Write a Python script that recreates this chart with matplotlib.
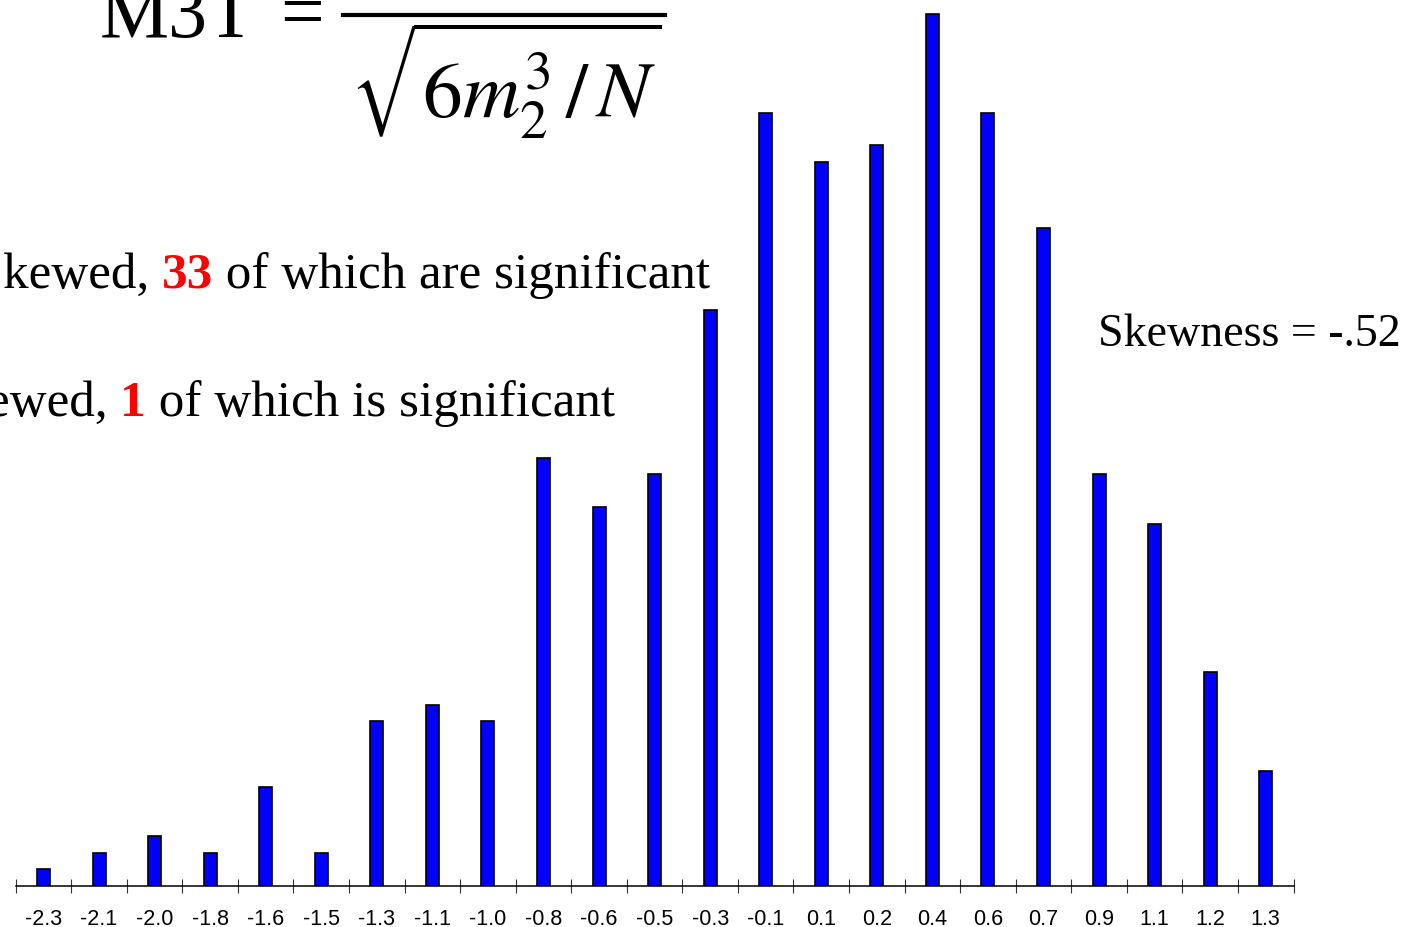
import matplotlib
matplotlib.use("Agg")
import matplotlib.pyplot as plt
from matplotlib.lines import Line2D

# Histogram of skewness values: bin labels and counts
bin_labels = ["-2.3", "-2.1", "-2.0", "-1.8", "-1.6", "-1.5", "-1.3", "-1.1",
              "-1.0", "-0.8", "-0.6", "-0.5", "-0.3", "-0.1", "0.1", "0.2",
              "0.4", "0.6", "0.7", "0.9", "1.1", "1.2", "1.3"]
counts = [1, 2, 3, 2, 6, 2, 10, 11, 10, 26, 23, 25, 35, 47, 44, 45, 53, 47,
          40, 25, 22, 13, 7]

line1 = [("kewed,", "black", "normal"), (" ", "black", "normal"),
         ("33", "#FF0000", "bold"), (" of which are significant", "black", "normal")]
line2 = [("ewed,", "black", "normal"), (" ", "black", "normal"),
         ("1", "#FF0000", "bold"), (" of which is significant", "black", "normal")]
skew_text = "Skewness = -.52"

W, H = 1420, 928
plt.rcParams["mathtext.fontset"] = "stix"
fig = plt.figure(figsize=(W / 100, H / 100), dpi=100)


def px(x, y):
    """Pixel position (from top-left) to figure fraction."""
    return x / W, 1 - y / H


ax = fig.add_axes([15.7 / W, (H - 886.7) / H, (1293.5 - 15.7) / W, 886.7 / H])
x = list(range(len(counts)))
ax.bar(x, counts, width=0.235, color="#0000FF", edgecolor="black", linewidth=1.2)
ax.set_xlim(-0.5, len(counts) - 0.5)
ax.set_ylim(0, 53.9)
for side in ("top", "right", "left"):
    ax.spines[side].set_visible(False)
ax.spines["bottom"].set_linewidth(1.1)
ax.set_yticks([])
ax.set_xticks(x)
ax.set_xticklabels(bin_labels, family="Liberation Sans", fontsize=15.5)
ax.tick_params(axis="x", which="major", length=0, pad=16)
ax.set_xticks([i - 0.5 for i in range(len(counts) + 1)], minor=True)
ax.tick_params(axis="x", which="minor", direction="inout", length=10, width=0.8,
               color="#333333")
ax.patch.set_alpha(0)

renderer = fig.canvas.get_renderer()

# Formula: M3T = m3 / sqrt(6 m2^3 / N)
fig.text(*px(100, 37), "M3T", family="Liberation Serif", fontsize=56,
         ha="left", va="baseline")
fig.text(*px(280, 37), "=", family="Liberation Serif", fontsize=56,
         ha="left", va="baseline")
fig.add_artist(Line2D([343 / W, 665 / W], [1 - 16 / H, 1 - 16 / H],
                      transform=fig.transFigure, color="black", lw=3.0))
fig.text(*px(468, -14), r"$m_3$", fontsize=56, ha="left", va="baseline")
fig.text(*px(350, 118), r"$\sqrt{6m_2^3\,/\,N}$", fontsize=57, ha="left",
         va="baseline")


def rich_line(x0, baseline, pieces, size):
    xx = x0
    for s, col, wt in pieces:
        t = fig.text(*px(xx, baseline), s, color=col, fontweight=wt,
                     family="Liberation Serif", fontsize=size, ha="left",
                     va="baseline")
        xx += t.get_window_extent(renderer).width
    return xx


def line_width(pieces, size):
    total = 0
    for s, col, wt in pieces:
        t = fig.text(0, 0, s, fontweight=wt, family="Liberation Serif", fontsize=size)
        total += t.get_window_extent(renderer).width
        t.remove()
    return total


size = 36
size = size * (710 - 3) / line_width(line1, size)
rich_line(3, 288, line1, size)
w2 = line_width(line2, size)
rich_line(615 - w2, 416, line2, size)

fig.text(*px(1098, 346), skew_text, family="Liberation Serif", fontsize=33,
         ha="left", va="baseline")

fig.savefig("out.png", dpi=100)
